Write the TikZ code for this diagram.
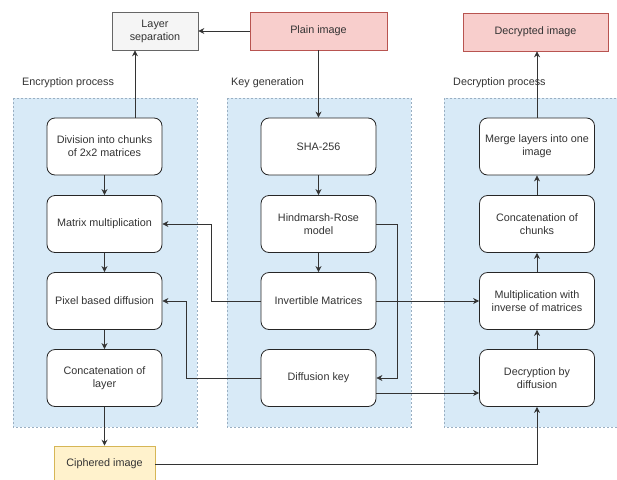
\documentclass[tikz,border=0pt]{standalone}
\usepackage{fontspec}
\setmainfont{Liberation Sans}
\usetikzlibrary{arrows.meta}
\definecolor{txt}{HTML}{333333}
\definecolor{cont}{HTML}{D8EAF7}
\definecolor{contb}{HTML}{9AAFC2}
\definecolor{pinkf}{HTML}{F8CECC}
\definecolor{pinkb}{HTML}{B85450}
\definecolor{yelf}{HTML}{FFF2CC}
\definecolor{yelb}{HTML}{D6B656}
\definecolor{grayf}{HTML}{F5F5F5}
\definecolor{grayb}{HTML}{666666}
\tikzset{
  every node/.style={font=\fontsize{10.8}{13}\selectfont, text=txt},
  proc/.style={draw=black!85, fill=white, rounded corners=8pt, line width=0.8pt,
    minimum width=115pt, minimum height=57pt, align=center, inner sep=2pt},
  term/.style={draw=pinkb, fill=pinkf, line width=0.6pt, minimum height=38pt, align=center},
  container/.style={draw=contb, fill=cont, dashed, dash pattern=on 2pt off 2pt, line width=0.8pt},
  arr/.style={draw=txt, line width=0.8pt, -{Stealth[length=6pt,width=6pt]}},
  grp/.style={anchor=west, inner sep=0pt}
}
\begin{document}
\begin{tikzpicture}[x=1pt,y=-1pt]
\useasboundingbox (0,0) rectangle (617,479);
\clip (0,0) rectangle (617,479);
\fill[white] (0,0) rectangle (617,479);
% containers
\draw[container] (13,98) rectangle (197,427);
\draw[container] (227,98) rectangle (411,427);
\draw[container] (444,98) rectangle (625,427);
\node[grp] (lenc) at (22,83) {Encryption process};
\node[grp] (lkey) at (231,83) {Key generation};
\node[grp] (ldec) at (453,83) {Decryption process};
% top boxes
\node[draw=grayb, fill=grayf, line width=0.6pt, minimum width=86pt, minimum height=38pt, align=center, inner sep=1pt] (ls) at (155,31) {Layer\\separation};
\node[term, minimum width=137pt] (plain) at (318.5,31) {Plain image};
\node[term, minimum width=145pt] (decimg) at (535.5,32) {Decrypted image};
% left column
\node[proc] (div) at (104.5,146.5) {Division into chunks\\of 2x2 matrices};
\node[proc] (mm) at (104.5,224) {Matrix multiplication};
\node[proc] (pix) at (104.5,301) {Pixel based diffusion};
\node[proc] (catl) at (104.5,378) {Concatenation of\\layer};
% middle column
\node[proc] (sha) at (318.5,146.5) {SHA-256};
\node[proc] (hr) at (318.5,224) {Hindmarsh-Rose\\model};
\node[proc] (inv) at (318.5,301) {Invertible Matrices};
\node[proc] (dk) at (318.5,378) {Diffusion key};
% right column
\node[proc] (merge) at (537,146.5) {Merge layers into one\\image};
\node[proc] (catc) at (537,224) {Concatenation of\\chunks};
\node[proc] (mult) at (537,301) {Multiplication with\\inverse of matrices};
\node[proc] (decd) at (537,378) {Decryption by\\diffusion};
% ciphered
\node[draw=yelb, fill=yelf, line width=0.6pt, minimum width=101pt, minimum height=36pt] (ciph) at (104.5,464) {Ciphered image};
% connectors
\draw[arr] (plain.west) -- (ls.east);
\draw[arr] (plain.south) -- (sha.north);
\draw[arr] ([xshift=30.5pt]div.north) -- ([xshift=30.5pt]div.north |- ls.south);
\draw[arr] (div) -- (mm);
\draw[arr] (mm) -- (pix);
\draw[arr] (pix) -- (catl);
\draw[arr] (catl) -- (ciph);
\draw[arr] (sha) -- (hr);
\draw[arr] (hr) -- (inv);
\draw[arr] (hr.east) -- (397,224) -- (397,378) -- (dk.east);
\draw[arr] (inv.west) -- (211,301) -- (211,224) -- (mm.east);
\draw[arr] (dk.west) -- (186,378) -- (186,301) -- (pix.east);
\draw[arr] (inv.east) -- (mult.west);
\draw[arr] ([yshift=-15pt]dk.east) -- ([yshift=-15pt]decd.west);
\draw[arr] (ciph.east) -- (ciph.east -| decd.south) -- (decd.south);
\draw[arr] (decd) -- (mult);
\draw[arr] (mult) -- (catc);
\draw[arr] (catc) -- (merge);
\draw[arr] (merge.north) -- (merge.north |- decimg.south);
\end{tikzpicture}
\end{document}
